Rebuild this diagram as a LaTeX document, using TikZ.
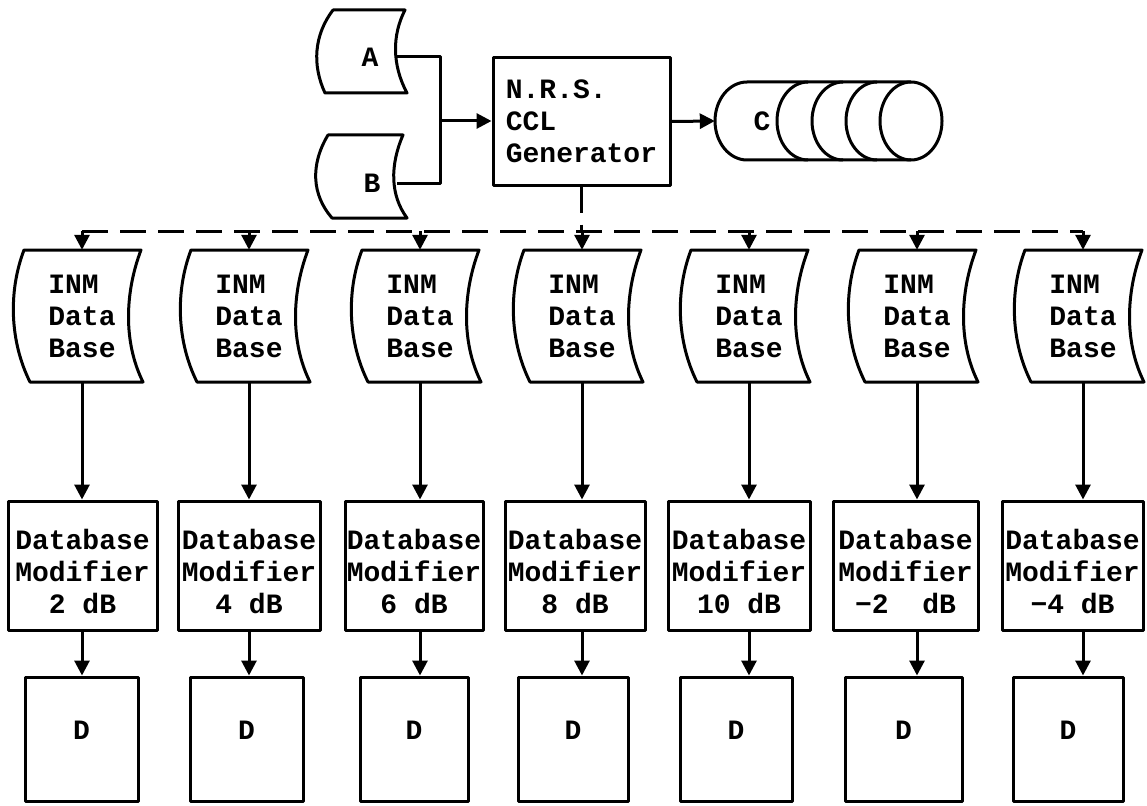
\documentclass[tikz,border=0pt]{standalone}
\usepackage{fontspec}
\setmonofont{Liberation Mono}
\usetikzlibrary{arrows.meta}
\begin{document}
\begin{tikzpicture}[x=1pt,y=-1pt,
  every node/.style={font=\ttfamily\bfseries\fontsize{28}{32}\selectfont, inner sep=0pt},
  line/.style={line width=3pt, line join=round},
  arr/.style={line, -{Triangle[length=15pt,width=15pt]}},
  busline/.style={line, dash pattern=on 26pt off 12pt},
  inm/.style={minimum width=110pt, minimum height=132pt, align=left},
  modbox/.style={draw, line, minimum height=129pt, align=center},
  dbox/.style={draw, line, minimum height=124pt, text depth=18pt},
  tag/.style={minimum width=50pt}]
\useasboundingbox (0,0) rectangle (1147,805);

% inputs A and B
\node[tag] (A) at (370,57) {A};
\draw[line] (333,10) -- (405,10) .. controls (392,35) and (392,65) .. (407,93)
  -- (325,93) .. controls (312,65) and (314,35) .. (333,10) -- cycle;
\node[tag] (B) at (372,183) {B};
\draw[line] (328,135) -- (403,135) .. controls (390,165) and (390,195) .. (407,218)
  -- (332,218) .. controls (312,195) and (310,165) .. (328,135) -- cycle;

% generator
\node[draw, line, minimum width=177pt, minimum height=127pt, align=left] (g)
  at (581.5,121.5) {N.R.S.\\CCL\\Generator};

% tape C
\node[minimum width=94pt] (C) at (762,121) {C};
\draw[line] (911,82) -- (747,82) arc[start angle=90, end angle=270, x radius=32pt, y radius=39pt] -- (911,160);
\draw[line] (911,121) ellipse [x radius=31pt, y radius=39pt];
\foreach \cx in {808,843,877}
  \draw[line] (\cx,82) arc[start angle=90, end angle=270, x radius=31pt, y radius=39pt];

% connectors at the top
\coordinate (jn) at (440,121);
\draw[line] (A.east) -| (jn) |- (B.east);
\draw[arr] (jn) -- (g.west |- jn);
\draw[arr] (g.east) -- (C.west);

% INM data bases
\foreach \n/\c in {1/80,2/247,3/418,4/580,5/747,6/915,7/1081} {
  \node[inm] (i\n) at (\c+2,316) {INM\\Data\\Base};
  \draw[line] (\c-56,250) .. controls (\c-72,292) and (\c-70,342) .. (\c-50,382)
    -- (\c+63,382) .. controls (\c+43,342) and (\c+45,292) .. (\c+61,250) -- cycle;
}

% modifiers
\foreach \n/\l/\r/\t in {1/8/157/{2 dB},2/178/320/{4 dB},3/345/483/{6 dB},
    4/505/645/{8 dB},5/668/810/{10 dB},6/833/978/{−2~~dB},7/1002/1143/{−4 dB}}
  \node[modbox, minimum width={\r-\l}] (m\n) at ({(\l+\r)/2},565.5)
    {\rule{0pt}{32pt}Database\\Modifier\\\t};

% outputs D
\foreach \n/\l/\r in {1/25/138,2/190/303,3/360/468,4/518/628,5/680/792,6/845/962,7/1013/1123}
  \node[dbox, minimum width={\r-\l}] (d\n) at ({(\l+\r)/2},739) {D};

% distribution bus
\coordinate (bus) at (0,231);
\draw[busline] (g.south) -- (g.south |- bus);
\draw[busline] (i1.north |- bus) -- (i7.north |- bus);

\foreach \n in {1,...,7} {
  \draw[arr] (i\n.north |- bus) -- (i\n.north);
  \draw[arr] (i\n.south) -- (i\n.south |- m\n.north);
  \draw[arr] (i\n.south |- m\n.south) -- (i\n.south |- d\n.north);
}
\end{tikzpicture}
\end{document}
